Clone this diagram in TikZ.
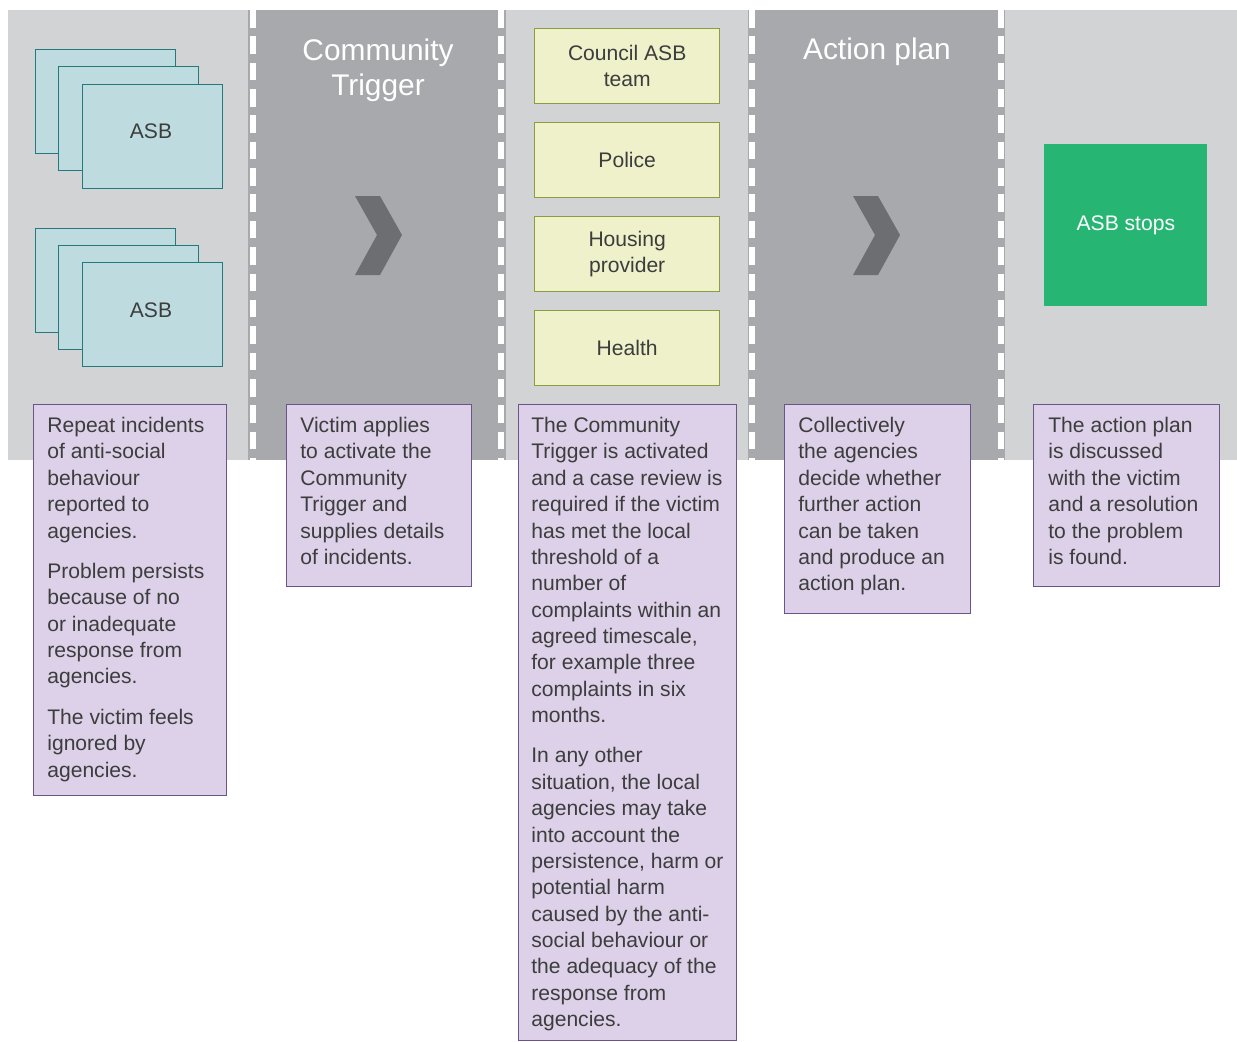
\documentclass[tikz,border=0pt]{standalone}
\usepackage{fontspec}
\setmainfont{Liberation Sans}
\definecolor{panellight}{HTML}{D1D3D4}
\definecolor{paneldark}{HTML}{A7A9AC}
\definecolor{chevron}{HTML}{6D6E71}
\definecolor{asbfill}{HTML}{BEDCDF}
\definecolor{asbline}{HTML}{23797B}
\definecolor{agencyfill}{HTML}{EEF1C9}
\definecolor{agencyline}{HTML}{8E9C3F}
\definecolor{stopgreen}{HTML}{27B574}
\definecolor{notefill}{HTML}{DCD1E8}
\definecolor{noteline}{HTML}{6B5487}
\definecolor{txt}{HTML}{3D3D3D}
\begin{document}
\begin{tikzpicture}[x=0.02cm,y=-0.02cm,
  asb/.style={draw=asbline,fill=asbfill,line width=0.8pt,minimum width=2.8cm,minimum height=2.08cm,anchor=north west,inner sep=0pt,text=txt,font=\fontsize{12}{15}\selectfont},
  agency/.style={draw=agencyline,fill=agencyfill,line width=0.8pt,minimum width=3.7cm,minimum height=1.5cm,anchor=north west,inner sep=0pt,align=center,text=txt,font=\fontsize{12}{15}\selectfont},
  notebox/.style={draw=noteline,fill=notefill,line width=0.8pt,anchor=north west,inner sep=0pt},
  notetext/.style={anchor=north west,align=left,inner sep=0pt,text=txt,font=\fontsize{12}{15}\selectfont},
  title/.style={text=white,align=center,font=\fontsize{17}{20}\selectfont},
  sepline/.style={white,line width=3.4pt,dash pattern=on 10pt off 5pt}]
	\useasboundingbox (0,0) rectangle (1237,1041);
	\fill[white] (0,0) rectangle (1237,1041);
	% panels
	\fill[panellight] (8,10) rectangle (1237,460);
	\fill[paneldark] (248,10) rectangle (506,460);
	\fill[paneldark] (748,10) rectangle (1005,460);
	\draw[sepline] (253,10) -- (253,460);
	\draw[sepline] (501,10) -- (501,460);
	\draw[sepline] (752,10) -- (752,460);
	\draw[sepline] (1001,10) -- (1001,460);
	% chevrons
	\fill[chevron] (355,196) -- (380,196) -- (402,235) -- (380,275) -- (355,275) -- (377,235) -- cycle;
	\fill[chevron] (853,196) -- (878,196) -- (900,235) -- (878,275) -- (853,275) -- (875,235) -- cycle;
	\node[title] (trigger) at (378,70) {Community\\Trigger};
	\node[title,anchor=base] (plan) at (877,59) {Action plan};
	% ASB stacks
	\node[asb] (asbA1) at (35,49) {};
	\node[asb] (asbA2) at (58,66) {};
	\node[asb] (asbA3) at (82,84) {};
	\node[text=txt,font=\fontsize{12}{15}\selectfont] (asbA) at (151,131) {ASB};
	\node[asb] (asbB1) at (35,228) {};
	\node[asb] (asbB2) at (58,245) {};
	\node[asb] (asbB3) at (82,262) {};
	\node[text=txt,font=\fontsize{12}{15}\selectfont] (asbB) at (151,310) {ASB};
	% agencies
	\node[agency] (council) at (534,28) {Council ASB\\team};
	\node[agency] (police) at (534,122) {Police};
	\node[agency] (housing) at (534,216) {Housing\\provider};
	\node[agency] (health) at (534,310) {Health};
	\node[fill=stopgreen,minimum width=3.26cm,minimum height=3.24cm,anchor=north west,inner sep=0pt,text=white,font=\fontsize{12}{15}\selectfont] (stops) at (1044,144) {ASB stops};
	% notes
	\node[notebox,minimum width=3.86cm,minimum height=7.82cm] (repeat) at (33,404) {};
	\node[notetext] (repeattext) at (47,417) {Repeat incidents\\of anti-social\\behaviour\\reported to\\agencies.\\[8pt]Problem persists\\because of no\\or inadequate\\response from\\agencies.\\[8pt]The victim feels\\ignored by\\agencies.};
	\node[notebox,minimum width=3.7cm,minimum height=3.64cm] (apply) at (286,404) {};
	\node[notetext] (applytext) at (300,417) {Victim applies\\to activate the\\Community\\Trigger and\\supplies details\\of incidents.};
	\node[notebox,minimum width=4.36cm,minimum height=12.72cm] (review) at (518,404) {};
	\node[notetext] (reviewtext) at (531,417) {The Community\\Trigger is activated\\and a case review is\\required if the victim\\has met the local\\threshold of a\\number of\\complaints within an\\agreed timescale,\\for example three\\complaints in six\\months.\\[8pt]In any other\\situation, the local\\agencies may take\\into account the\\persistence, harm or\\potential harm\\caused by the anti-\\social behaviour or\\the adequacy of the\\response from\\agencies.};
	\node[notebox,minimum width=3.72cm,minimum height=4.18cm] (decide) at (784,404) {};
	\node[notetext] (decidetext) at (798,417) {Collectively\\the agencies\\decide whether\\further action\\can be taken\\and produce an\\action plan.};
	\node[notebox,minimum width=3.72cm,minimum height=3.64cm] (resolve) at (1033,404) {};
	\node[notetext] (resolvetext) at (1048,417) {The action plan\\is discussed\\with the victim\\and a resolution\\to the problem\\is found.};
\end{tikzpicture}
\end{document}
